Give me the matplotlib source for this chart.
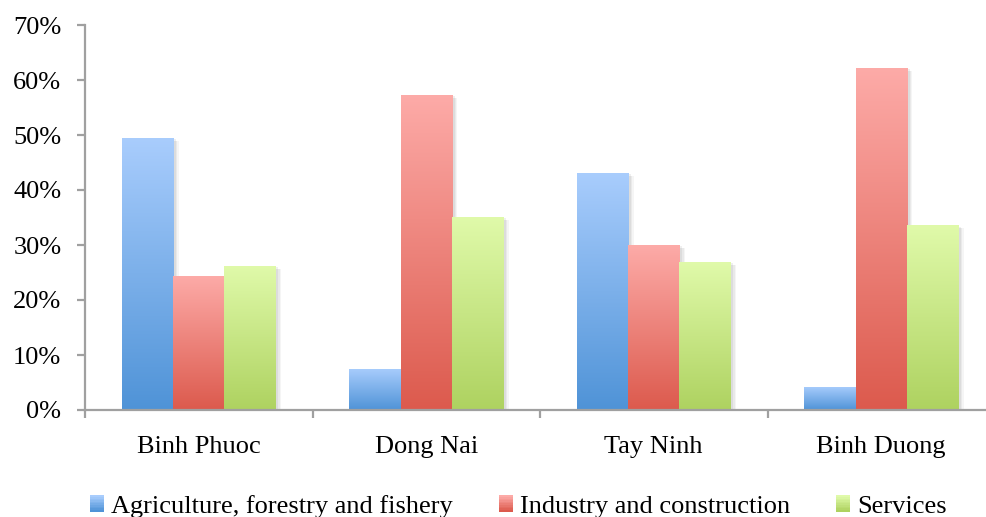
import numpy as np
import matplotlib
matplotlib.use("Agg")
from matplotlib import pyplot as plt
from matplotlib.patches import Rectangle
from matplotlib import patheffects as pe
from matplotlib.ticker import FuncFormatter, MultipleLocator

plt.rcParams['font.family'] = ['Liberation Serif', 'DejaVu Serif']

provinces = ['Binh Phuoc', 'Dong Nai', 'Tay Ninh', 'Binh Duong']
sectors = ['Agriculture, forestry and fishery', 'Industry and construction', 'Services']
agriculture = [49.5, 7.5, 43.1, 4.2]
industry = [24.4, 57.3, 30.0, 62.2]
services = [26.2, 35.1, 26.9, 33.6]
shares = [agriculture, industry, services]

# light (top) -> dark (bottom) colour of each series
grad_top = ['#a9cdfd', '#fdaba8', '#e0faaa']
grad_bottom = ['#4f93d7', '#dc5a4d', '#aed260']

fig = plt.figure(figsize=(9.87, 5.17), dpi=100)
ax = fig.add_axes([85 / 987, 107 / 517, 910 / 987, 385 / 517])


def gradient(top, bottom, n=256):
    c0 = np.array(matplotlib.colors.to_rgb(top))
    c1 = np.array(matplotlib.colors.to_rgb(bottom))
    t = np.linspace(0, 1, n)[:, None]
    return (c0 * (1 - t) + c1 * t)[:, None, :]


x = np.arange(len(provinces))
w = 0.225
shadow = [pe.SimplePatchShadow(offset=(4, -2), shadow_rgbFace='#808080', alpha=0.08),
          pe.SimplePatchShadow(offset=(3, -2), shadow_rgbFace='#808080', alpha=0.10),
          pe.SimplePatchShadow(offset=(2, -1), shadow_rgbFace='#808080', alpha=0.12)]
for i, vals in enumerate(shares):
    bars = ax.bar(x + (i - 1) * w, vals, w, facecolor='none', edgecolor='none', zorder=1)
    img = gradient(grad_top[i], grad_bottom[i])
    for b in bars:
        b.set_path_effects(shadow)
        x0, h = b.get_x(), b.get_height()
        im = ax.imshow(img, extent=(x0, x0 + w, 0, h), aspect='auto', zorder=2,
                       interpolation='bilinear')
        clip = Rectangle((x0, 0), w, h, transform=ax.transData)
        im.set_clip_path(clip)

ax.set_xlim(-0.5, 3.5)
ax.set_ylim(0, 70)
ax.yaxis.set_major_locator(MultipleLocator(10))
ax.yaxis.set_major_formatter(FuncFormatter(lambda v, p: f'{v:.0f}%'))
ax.set_xticks(x)
ax.set_xticklabels(provinces)
ax.set_xticks(np.arange(-0.5, 4, 1), minor=True)

for s in ['top', 'right']:
    ax.spines[s].set_visible(False)
for s in ['left', 'bottom']:
    ax.spines[s].set_color('#a0a0a0')
    ax.spines[s].set_linewidth(1.6)

ax.tick_params(axis='y', length=6, width=1.6, color='#a0a0a0', labelsize=19, pad=11)
ax.tick_params(axis='x', which='major', length=0, labelsize=19, pad=18.5)
ax.tick_params(axis='x', which='minor', length=6, width=1.6, color='#a0a0a0')


class GradHandler:
    def __init__(self, top, bottom):
        self.top, self.bottom = top, bottom

    def legend_artist(self, legend, orig_handle, fontsize, handlebox):
        x0, y0 = -handlebox.xdescent, -handlebox.ydescent
        wd, ht = handlebox.width, handlebox.height
        cols = gradient(self.top, self.bottom, 10)[:, 0, :]
        n = len(cols)
        rect = None
        for k, c in enumerate(cols):
            rect = Rectangle((x0, y0 + ht * (n - 1 - k) / n), wd, ht / n + 0.3,
                             facecolor=c, edgecolor='none',
                             transform=handlebox.get_transform())
            handlebox.add_artist(rect)
        return rect


handles = [Rectangle((0, 0), 1, 1) for _ in sectors]
fig.legend(handles, sectors, loc='center', bbox_to_anchor=(0.5253, 0.02), ncol=3,
           frameon=False, fontsize=19, handlelength=0.53, handleheight=0.55,
           handletextpad=0.27, columnspacing=1.75,
           handler_map={h: GradHandler(grad_top[i], grad_bottom[i])
                        for i, h in enumerate(handles)})

fig.savefig('out.png', dpi=100)
